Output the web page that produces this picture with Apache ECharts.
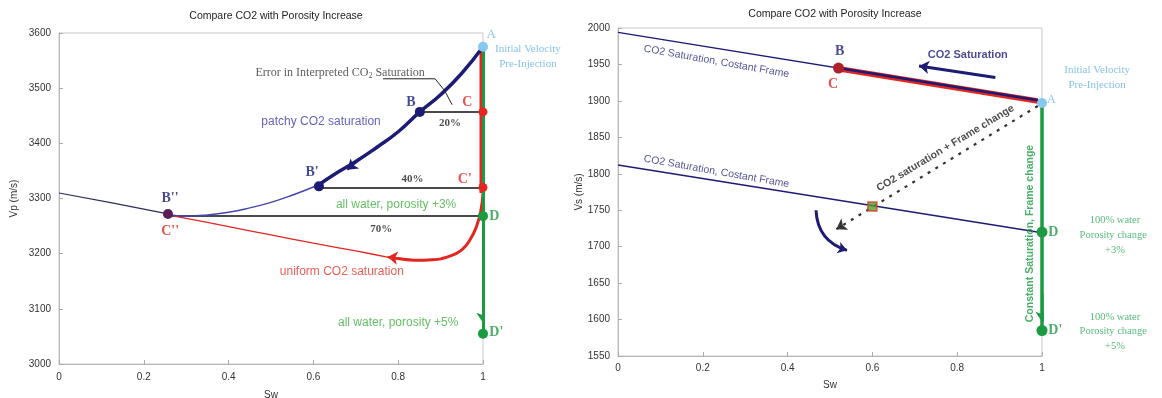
<!DOCTYPE html>
<html><head><meta charset="utf-8">
<script src="https://cdn.jsdelivr.net/npm/echarts@6/dist/echarts.min.js"></script>
<style>html,body{margin:0;padding:0;background:#fff}#c{width:1162px;height:398px}</style>
</head><body><div id="c"></div>
<script>
// ---------- Left panel data: Sw vs Vp (m/s) ----------
const vpTicks = [3000, 3100, 3200, 3300, 3400, 3500, 3600];
const swTicks = [0, 0.2, 0.4, 0.6, 0.8, 1];
const leftTail = [[0, 3310], [0.125, 3292], [0.257, 3272]];
const patchyThick = [[1, 3575], [0.95, 3527], [0.9, 3488], [0.851, 3457], [0.8, 3421], [0.75, 3393], [0.7, 3367], [0.65, 3344], [0.613, 3325]];
const patchyThin = [[0.613, 3325], [0.55, 3306], [0.5, 3293], [0.45, 3283], [0.4, 3275], [0.35, 3270], [0.3, 3268], [0.257, 3271]];
const uniformVert = [[1, 3575], [1, 3310]];
const uniformThick = [[1, 3310], [0.995, 3278], [0.985, 3250], [0.97, 3226], [0.95, 3207], [0.92, 3195], [0.88, 3189], [0.84, 3188], [0.8, 3191], [0.78, 3193]];
const uniformThin = [[0.78, 3193], [0.7, 3205], [0.6, 3219], [0.5, 3234], [0.4, 3249], [0.3, 3264], [0.257, 3270]];
const waterVpPath = [[1, 3575], [1, 3055]];
const errorBars = [[[0.851, 3457], [1, 3457]], [[0.613, 3320], [1, 3320]], [[0.257, 3268], [1, 3268]]];
const leftPointA = [[1, 3575]];
const leftPointsB = [[0.851, 3457], [0.613, 3322]];
const leftPointB2 = [[0.257, 3272]];
const leftPointsC = [[1, 3457], [1, 3320]];
const leftPointsD = [[1, 3268], [1, 3055]];
const leftArrowPatchy = [[0.72, 3378], [0.68, 3352]];
const leftArrowUniform = [[0.83, 3189], [0.775, 3194]];
const leftArrowWater = [[1, 3115], [1, 3075]];
const errorPointer = [[0.764, 3517], [0.887, 3517], [0.91, 3495], [0.927, 3470]];
// text annotations [Sw, Vp, text]
const leftNavyTags = [[0.83, 3474, "B"], [0.597, 3347, "B'"], [0.262, 3301, "B''"]];
const leftRedTags = [[0.963, 3474, "C"], [0.957, 3335, "C'"], [0.262, 3240, "C''"]];
const leftGreenTags = [[1.015, 3268, "D"], [1.015, 3057, "D'"]];
const leftPctTags = [[0.922, 3437, "20%"], [0.834, 3335, "40%"], [0.76, 3245, "70%"]];
const leftATag = [[1.008, 3598, "A"]];
const leftInitTags = [[1.106, 3571, "Initial Velocity"], [1.106, 3543, "Pre-Injection"]];
const leftErrorTag = [[0.663, 3528, "Error in Interpreted CO{s|2} Saturation"]];
const leftPatchyTag = [[0.618, 3440, "patchy CO2 saturation"]];
const leftUniformTag = [[0.667, 3167, "uniform CO2 saturation"]];
const leftWaterTags = [[0.795, 3289, "all water, porosity +3%"], [0.8, 3075, "all water, porosity +5%"]];

// ---------- Right panel data: Sw vs Vs (m/s) ----------
const vsTicks = [1550, 1600, 1650, 1700, 1750, 1800, 1850, 1900, 1950, 2000];
const upperFrame = [[0, 1994], [1, 1900]];
const lowerFrame = [[0, 1812], [1, 1719]];
const satPath = [[0.52, 1945], [0.99, 1901]];
const waterVsPath = [[1, 1897], [1, 1585]];
const frameChangePath = [[0.99, 1893], [0.515, 1724]];
const satArrow = [[0.89, 1932], [0.71, 1948]];
const curvedArrow = [[0.467, 1750], [0.54, 1695]];
const rightArrowWater = [[1, 1635], [1, 1597]];
const rightPointA = [[1, 1897]];
const rightPointB = [[0.52, 1945]];
const rightPointsD = [[1, 1720], [1, 1585]];
const rightSquare = [[0.6, 1755]];
const rightNavyTags = [[0.523, 1968, "B"]];
const rightRedTags = [[0.507, 1922, "C"]];
const rightATag = [[1.012, 1901, "A"]];
const rightInitTags = [[1.13, 1942, "Initial Velocity"], [1.13, 1922, "Pre-Injection"]];
const rightSatTag = [[0.825, 1963, "CO2 Saturation"]];
const rightFrameTags = [[0.232, 1954, "CO2 Saturation, Costant Frame"], [0.232, 1803, "CO2 Saturation, Costant Frame"]];
const rightComboTag = [[0.772, 1835, "CO2 saturation + Frame change"]];
const rightVertTag = [[0.972, 1718, "Constant Saturation, Frame change"]];
const rightGreenTags = [[1.015, 1720, "D"], [1.015, 1585, "D'"]];
const rightWaterTags = [[1.172, 1736, "100% water"], [1.168, 1716, "Porosity change"], [1.172, 1695, "+3%"],
                        [1.172, 1603, "100% water"], [1.168, 1584, "Porosity change"], [1.172, 1564, "+5%"]];

// ---------- styles ----------
const NAVY = '#1c1c74', RED = '#e3261f', GREEN = '#1b9a42', LBLUE = '#66b0e4', CYAN = '#86c8ef';
const SERIF = 'Liberation Serif', SANS = 'Liberation Sans';

function ax(i){ return {xAxisIndex: i, yAxisIndex: i}; }
function line(i, data, color, width, extra){
  return Object.assign({type:'line', data, showSymbol:false, symbol:'none', smooth:false, silent:true,
    lineStyle:{color, width}, z:3}, ax(i), extra||{});
}
function segs(i, list, color, width, extra){
  return Object.assign({type:'lines', coordinateSystem:'cartesian2d', silent:true,
    data: list.map(c=>({coords:c})), lineStyle:{color, width, opacity:1}, z:3}, ax(i), extra||{});
}
function arrow(i, coords, color, width, size, extra){
  return Object.assign({type:'lines', coordinateSystem:'cartesian2d', silent:true, polyline: coords.length>2,
    symbol:['none','arrow'], symbolSize:size, data:[{coords}], lineStyle:{color, width, opacity:1}, z:6}, ax(i), extra||{});
}
function pts(i, data, color, size, extra){
  return Object.assign({type:'scatter', data, symbolSize:size, itemStyle:{color, opacity:1}, silent:true, clip:false, z:7}, ax(i), extra||{});
}
function tags(i, list, label){
  return Object.assign({type:'scatter', silent:true, clip:false, symbolSize:0, z:8,
    data: list.map(t=>({value:[t[0],t[1]], name:t[2]})),
    label: Object.assign({show:true, position:'inside', formatter:'{b}'}, label)}, ax(i));
}

const axisCommon = {
  axisLine:{show:true, onZero:false, lineStyle:{color:'#b8b8b8'}},
  axisTick:{show:true, inside:true, length:4, lineStyle:{color:'#aaa'}},
  splitLine:{show:false},
  axisLabel:{color:'#333', fontSize:10, fontFamily:SANS, formatter:v=>String(parseFloat(v.toFixed(1)))},
  nameTextStyle:{color:'#333', fontSize:10, fontFamily:SANS}
};

const option = {
  animation:false,
  backgroundColor:'#fff',
  title:[
    {text:'Compare CO2 with Porosity Increase', left:271, top:6, textAlign:'center', textStyle:{fontSize:10.5, fontWeight:'normal', color:'#222', fontFamily:SANS}},
    {text:'Compare CO2 with Porosity Increase', left:830, top:4, textAlign:'center', textStyle:{fontSize:10.5, fontWeight:'normal', color:'#222', fontFamily:SANS}}
  ],
  grid:[
    {left:59, top:33, width:424, height:331, show:true, borderColor:'#c8c8c8', borderWidth:1, containLabel:false, outerBoundsMode:'none'},
    {left:618, top:28, width:424, height:328, show:true, borderColor:'#c8c8c8', borderWidth:1, containLabel:false, outerBoundsMode:'none'}
  ],
  xAxis:[
    Object.assign({}, axisCommon, {gridIndex:0, type:'value', min:swTicks[0], max:swTicks[swTicks.length-1], interval:0.2,
      name:'Sw', nameLocation:'middle', nameGap:26,
      axisLabel:Object.assign({}, axisCommon.axisLabel, {margin:8})}),
    Object.assign({}, axisCommon, {gridIndex:1, type:'value', min:swTicks[0], max:swTicks[swTicks.length-1], interval:0.2,
      name:'Sw', nameLocation:'middle', nameGap:24,
      axisLabel:Object.assign({}, axisCommon.axisLabel, {margin:7})})
  ],
  yAxis:[
    Object.assign({}, axisCommon, {gridIndex:0, type:'value', min:vpTicks[0], max:vpTicks[vpTicks.length-1], interval:100,
      name:'Vp (m/s)', nameLocation:'middle', nameGap:40}),
    Object.assign({}, axisCommon, {gridIndex:1, type:'value', min:vsTicks[0], max:vsTicks[vsTicks.length-1], interval:50,
      name:'Vs (m/s)', nameLocation:'middle', nameGap:32})
  ],
  series:[
    // ----- left -----
    line(0, leftTail, '#2d2d5e', 1.2),
    line(0, uniformThin, RED, 1.3, {smooth:0.3}),
    line(0, patchyThin, '#4545b0', 1.5, {smooth:true}),
    segs(0, errorBars, '#4a4a4a', 2),
    segs(0, [uniformVert], RED, 3, {lineStyle:{color:RED, width:3, opacity:1, shadowColor:RED, shadowOffsetX:-2.5, shadowBlur:0}}),
    line(0, uniformThick, RED, 3, {smooth:true}),
    segs(0, [waterVpPath], GREEN, 3, {z:4}),
    line(0, patchyThick, NAVY, 3.5, {smooth:true, z:5}),
    arrow(0, leftArrowPatchy, NAVY, 2, 10),
    arrow(0, leftArrowUniform, RED, 2, 10),
    arrow(0, leftArrowWater, GREEN, 2.5, 10),
    arrow(0, errorPointer, '#222', 1, 7),
    pts(0, leftPointA, CYAN, 10),
    pts(0, leftPointsB, NAVY, 10),
    pts(0, leftPointB2, '#5a1e56', 10),
    pts(0, leftPointsC, RED, 9),
    pts(0, leftPointsD, GREEN, 10),
    tags(0, leftNavyTags, {color:NAVY, fontFamily:SERIF, fontWeight:'bold', fontSize:14}),
    tags(0, leftRedTags, {color:RED, fontFamily:SERIF, fontWeight:'bold', fontSize:14}),
    tags(0, leftGreenTags, {color:GREEN, fontFamily:SERIF, fontWeight:'bold', fontSize:14, align:'left'}),
    tags(0, leftPctTags, {color:'#222', fontFamily:SERIF, fontWeight:'bold', fontSize:11}),
    tags(0, leftATag, {color:LBLUE, fontFamily:SERIF, fontSize:13, align:'left'}),
    tags(0, leftInitTags, {color:LBLUE, fontFamily:SERIF, fontSize:11}),
    tags(0, leftErrorTag, {color:'#333', fontFamily:SERIF, fontSize:12, rich:{s:{fontSize:8, fontFamily:SERIF, color:'#333', padding:[6,0,0,0]}}}),
    tags(0, leftPatchyTag, {color:'#3a3aa8', fontFamily:SANS, fontSize:12}),
    tags(0, leftUniformTag, {color:'#e0362c', fontFamily:SANS, fontSize:12}),
    tags(0, leftWaterTags, {color:'#3fae3f', fontFamily:SANS, fontSize:12}),
    // ----- right -----
    line(1, upperFrame, NAVY, 1.5),
    line(1, lowerFrame, NAVY, 1.5),
    segs(1, [satPath], RED, 4, {lineStyle:{color:RED, width:4, opacity:1, shadowColor:RED, shadowOffsetY:1.5, shadowBlur:0}}),
    segs(1, [satPath], NAVY, 2.5, {z:4}),
    segs(1, [waterVsPath], GREEN, 3.5, {z:4}),
    arrow(1, frameChangePath, '#333', 2.2, 10, {lineStyle:{color:'#333', width:2.2, opacity:1, type:[3,6]}}),
    arrow(1, satArrow, NAVY, 3, 10),
    arrow(1, curvedArrow, NAVY, 3, 9, {lineStyle:{color:NAVY, width:3, opacity:1, curveness:-0.35}}),
    arrow(1, rightArrowWater, GREEN, 2.5, 10),
    pts(1, rightPointA, CYAN, 10),
    pts(1, rightPointB, '#b0202a', 11),
    pts(1, rightPointsD, GREEN, 11),
    pts(1, rightSquare, '#4e8a2e', 9, {symbol:'rect', itemStyle:{color:'#5a9a2a', borderColor:'#d04020', borderWidth:1.5}}),
    tags(1, rightNavyTags, {color:NAVY, fontFamily:SERIF, fontWeight:'bold', fontSize:14}),
    tags(1, rightRedTags, {color:RED, fontFamily:SERIF, fontWeight:'bold', fontSize:14}),
    tags(1, rightATag, {color:LBLUE, fontFamily:SERIF, fontSize:12, align:'left'}),
    tags(1, rightInitTags, {color:LBLUE, fontFamily:SERIF, fontSize:11}),
    tags(1, rightSatTag, {color:NAVY, fontFamily:SANS, fontWeight:'bold', fontSize:11}),
    tags(1, rightFrameTags, {color:'#2a2a80', fontFamily:SANS, fontSize:10.5, rotate:-10}),
    tags(1, rightComboTag, {color:'#222', fontFamily:SANS, fontWeight:'bold', fontSize:10.5, rotate:31}),
    tags(1, rightVertTag, {color:GREEN, fontFamily:SANS, fontWeight:'bold', fontSize:10.5, rotate:90}),
    tags(1, rightGreenTags, {color:GREEN, fontFamily:SERIF, fontWeight:'bold', fontSize:14, align:'left'}),
    tags(1, rightWaterTags, {color:'#2ea85a', fontFamily:SERIF, fontSize:10.5})
  ]
};
const chart = echarts.init(document.getElementById('c'), null, {renderer:'canvas'});
chart.setOption(option);
</script></body></html>
